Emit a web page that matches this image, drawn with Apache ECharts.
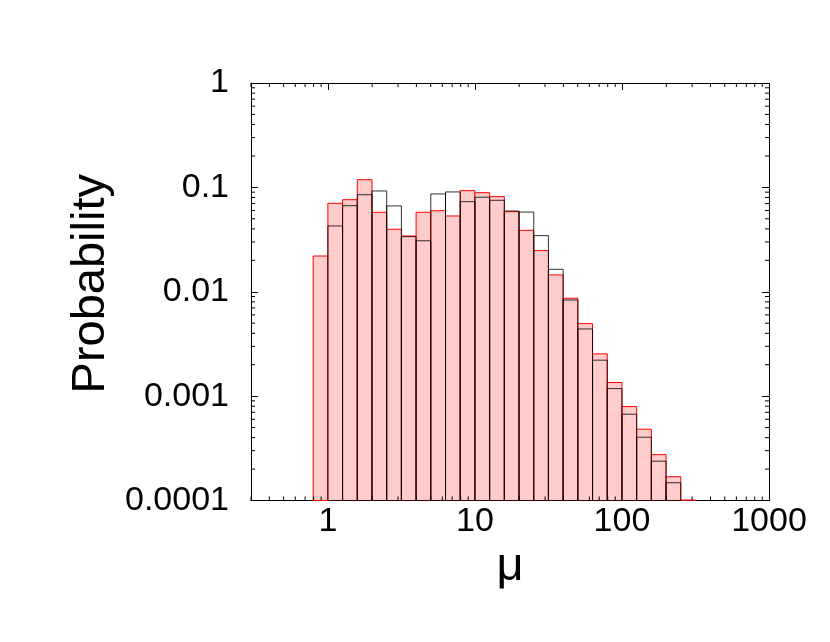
<!DOCTYPE html>
<html>
<head>
<meta charset="utf-8">
<script src="https://cdn.jsdelivr.net/npm/echarts@6/dist/echarts.min.js"></script>
<style>
html,body{margin:0;padding:0;background:#fff;}
#chart{width:830px;height:642px;}
</style>
</head>
<body>
<div id="chart"></div>
<script>
// Histogram bin edges (log-spaced, 0.1 decade)
const binEdges = [0.7943, 1, 1.259, 1.585, 1.995, 2.512, 3.162, 3.981, 5.012, 6.310, 7.943,
  10, 12.59, 15.85, 19.95, 25.12, 31.62, 39.81, 50.12, 63.10, 79.43,
  100, 125.9, 158.5, 199.5, 251.2, 316.2];
// Red (filled) series probabilities per bin
const redValues = [0.022, 0.0704, 0.0762, 0.1185, 0.0577, 0.0397, 0.0342, 0.0577, 0.0598, 0.0532,
  0.093, 0.0889, 0.0815, 0.0585, 0.0388, 0.0248, 0.0145, 0.00867, 0.00495, 0.00254,
  0.00135, 0.000794, 0.000482, 0.000275, 0.000169, 0.000101];
// Black (outline) series probabilities per bin
const blackValues = [null, 0.0427, 0.0668, 0.0851, 0.0924, 0.0664, 0.0337, 0.0308, 0.0865, 0.0904,
  0.073, 0.0804, 0.0752, 0.0594, 0.058, 0.0345, 0.0164, 0.00834, 0.0044, 0.00221,
  0.00118, 0.000671, 0.000404, 0.000238, 0.000148, null];
// Axis ticks
const xTickLabels = {'0': '1', '1': '10', '2': '100', '3': '1000'};
const yTickLabels = {'-4': '0.0001', '-3': '0.001', '-2': '0.01', '-1': '0.1', '0': '1'};
const xMin = 0.3, xMax = 1000, yMin = 0.0001, yMax = 1;
const minorMantissas = [2, 3, 4, 5, 6, 7, 8, 9];
const xDecades = [0.1, 1, 10, 100];
const yDecades = [0.0001, 0.001, 0.01, 0.1];

function buildHist(vals) {
  const out = [];
  vals.forEach((v, i) => { if (v != null) out.push([binEdges[i], binEdges[i + 1], v]); });
  return out;
}
const xMinor = [];
xDecades.forEach(d => minorMantissas.forEach(m => { const v = m * d; if (v > xMin && v < xMax) xMinor.push([v]); }));
const yMinor = [];
yDecades.forEach(d => minorMantissas.forEach(m => { const v = m * d; if (v > yMin && v < yMax) yMinor.push([v]); }));

const FONT = '"Liberation Sans", Arial, Helvetica, sans-serif';
const chart = echarts.init(document.getElementById('chart'), null, {renderer: 'canvas'});

function barRender(fill, stroke) {
  return function (params, api) {
    const p0 = api.coord([api.value(0), api.value(2)]);
    const p1 = api.coord([api.value(1), yMin]);
    return {
      type: 'rect',
      shape: {x: p0[0], y: p0[1], width: p1[0] - p0[0], height: p1[1] - p0[1]},
      style: {fill: fill, stroke: stroke, lineWidth: 1}
    };
  };
}

const MINOR = 4;
function xMinorRender(params, api) {
  const b = api.coord([api.value(0), yMin]);
  const t = api.coord([api.value(0), yMax]);
  const st = {stroke: '#000', lineWidth: 1};
  return {type: 'group', children: [
    {type: 'line', shape: {x1: b[0], y1: b[1], x2: b[0], y2: b[1] - MINOR}, style: st},
    {type: 'line', shape: {x1: t[0], y1: t[1], x2: t[0], y2: t[1] + MINOR}, style: st}
  ]};
}
function yMinorRender(params, api) {
  const l = api.coord([xMin, api.value(0)]);
  const r = api.coord([xMax, api.value(0)]);
  const st = {stroke: '#000', lineWidth: 1};
  return {type: 'group', children: [
    {type: 'line', shape: {x1: l[0], y1: l[1], x2: l[0] + MINOR, y2: l[1]}, style: st},
    {type: 'line', shape: {x1: r[0], y1: r[1], x2: r[0] - MINOR, y2: r[1]}, style: st}
  ]};
}

const axisLine = {show: true, onZero: false, lineStyle: {color: '#000', width: 1}};
const majorTick = {show: true, inside: true, length: 7, lineStyle: {color: '#000', width: 1}};

chart.setOption({
  animation: false,
  backgroundColor: '#fff',
  grid: {left: 251, right: 61, top: 83, bottom: 141.5, containLabel: false},
  xAxis: [{
    type: 'log', min: xMin, max: xMax, logBase: 10,
    name: 'μ', nameLocation: 'middle', nameGap: 30,
    nameTextStyle: {fontFamily: FONT, fontSize: 47, color: '#000'},
    axisLine: axisLine, axisTick: majorTick, splitLine: {show: false},
    axisLabel: {fontFamily: FONT, fontSize: 34, color: '#000', margin: 4,
      showMinLabel: true, showMaxLabel: true,
      formatter: v => { const e = Math.log10(v); const r = Math.round(e); return Math.abs(e - r) < 1e-6 ? (xTickLabels[String(r)] || '') : ''; }}
  }, {
    type: 'log', min: xMin, max: xMax, logBase: 10, position: 'top',
    axisLine: axisLine, axisTick: majorTick, splitLine: {show: false}, axisLabel: {show: false}
  }],
  yAxis: [{
    type: 'log', min: yMin, max: yMax, logBase: 10,
    name: 'Probability', nameLocation: 'middle', nameGap: 120,
    nameTextStyle: {fontFamily: FONT, fontSize: 47, color: '#000', padding: [0, 0, 0, 16]},
    axisLine: axisLine, axisTick: majorTick, splitLine: {show: false},
    axisLabel: {fontFamily: FONT, fontSize: 34, color: '#000', margin: 22,
      formatter: v => { const e = Math.log10(v); const r = Math.round(e); return Math.abs(e - r) < 1e-6 ? (yTickLabels[String(r)] || '') : ''; }}
  }, {
    type: 'log', min: yMin, max: yMax, logBase: 10, position: 'right',
    axisLine: axisLine, axisTick: majorTick, splitLine: {show: false}, axisLabel: {show: false}
  }],
  series: [
    {type: 'custom', name: 'red', renderItem: barRender('#ffcccc', '#ff0000'),
      encode: {x: [0, 1], y: 2}, data: buildHist(redValues), z: 2, silent: true},
    {type: 'custom', name: 'black', renderItem: barRender('none', 'rgba(0,0,0,0.8)'),
      encode: {x: [0, 1], y: 2}, data: buildHist(blackValues), z: 3, silent: true},
    {type: 'custom', name: 'xminor', renderItem: xMinorRender, encode: {x: 0}, data: xMinor, z: 4, silent: true},
    {type: 'custom', name: 'yminor', renderItem: yMinorRender, encode: {y: 0}, data: yMinor, z: 4, silent: true}
  ]
});
</script>
</body>
</html>
